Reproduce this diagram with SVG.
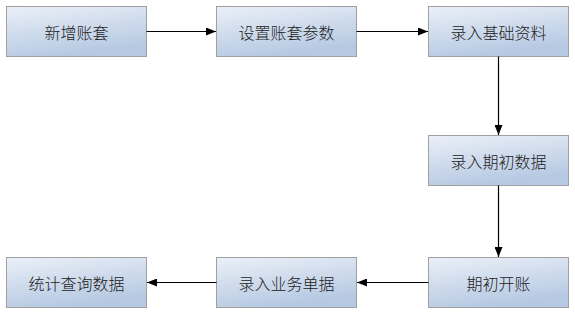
<svg xmlns="http://www.w3.org/2000/svg" width="575" height="313" viewBox="0 0 575 313">
<style>
.box{fill:url(#g);stroke:#a0a0a0;stroke-width:1}
.t{font-family:"Microsoft YaHei","Noto Sans CJK SC",sans-serif;font-size:16px;font-weight:300;fill:#222;text-anchor:middle;dominant-baseline:central}
.c{stroke:#000;stroke-width:1.2;fill:none;marker-end:url(#a)}
</style>
<defs>
<linearGradient id="g" x1="0" y1="0" x2="0.35" y2="1">
<stop offset="0" stop-color="#ebf0f8"/>
<stop offset="1" stop-color="#b6c9e2"/>
</linearGradient>
<marker id="a" markerWidth="10" markerHeight="8" refX="10" refY="4" orient="auto" markerUnits="userSpaceOnUse">
<path d="M0,0 L10,4 L0,8 Z" fill="#000"/>
</marker>
</defs>
<g id="n1"><rect class="box" x="6.5" y="6.5" width="140" height="50"/><text class="t" x="76.5" y="31.5">新增账套</text></g>
<g id="n2"><rect class="box" x="216.5" y="6.5" width="140" height="50"/><text class="t" x="286.5" y="31.5">设置账套参数</text></g>
<g id="n3"><rect class="box" x="428.5" y="6.5" width="140" height="50"/><text class="t" x="498.5" y="31.5">录入基础资料</text></g>
<g id="n4"><rect class="box" x="428.5" y="135.5" width="140" height="50"/><text class="t" x="498.5" y="160.5">录入期初数据</text></g>
<g id="n5"><rect class="box" x="428.5" y="257.5" width="140" height="50"/><text class="t" x="498.5" y="282.5">期初开账</text></g>
<g id="n6"><rect class="box" x="216.5" y="257.5" width="140" height="50"/><text class="t" x="286.5" y="282.5">录入业务单据</text></g>
<g id="n7"><rect class="box" x="6.5" y="257.5" width="140" height="50"/><text class="t" x="76.5" y="282.5">统计查询数据</text></g>
<g id="connectors">
<path class="c" d="M146.5,31.5 H216"/>
<path class="c" d="M356.5,31.5 H428"/>
<path class="c" d="M498.5,56.5 V135"/>
<path class="c" d="M498.5,185.5 V257"/>
<path class="c" d="M428.5,282.5 H357"/>
<path class="c" d="M216.5,282.5 H147"/>
</g>
</svg>
